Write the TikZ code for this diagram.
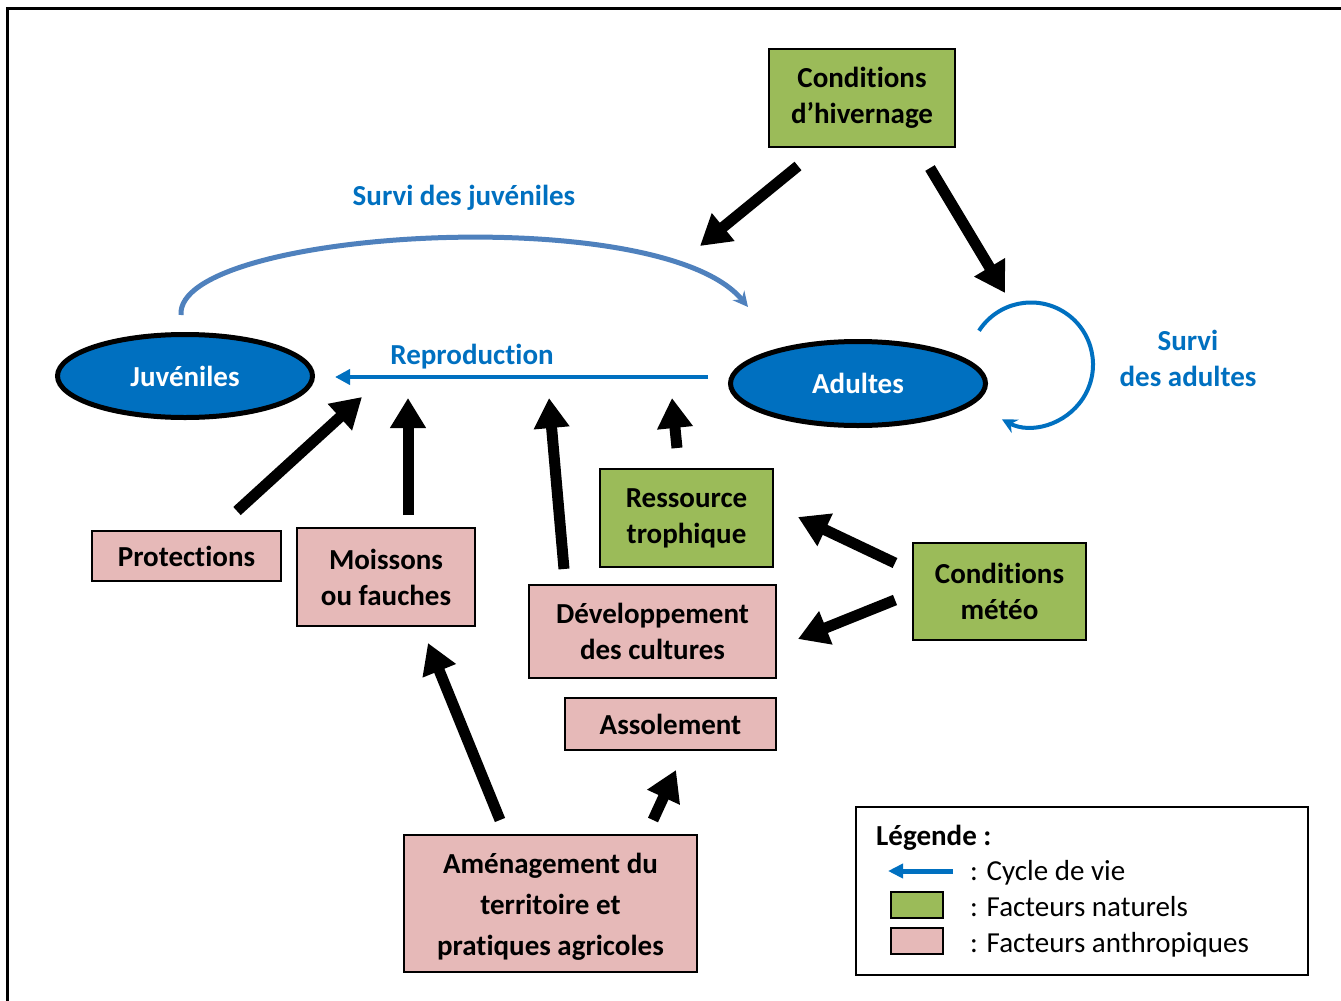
\documentclass[tikz,border=0pt]{standalone}
\usepackage{fontspec}
\setmainfont{Carlito}[Ligatures={NoCommon,NoContextual,NoDiscretionary},Contextuals=NoAlternate]
\usetikzlibrary{shapes.geometric,arrows.meta}
\definecolor{cblue}{HTML}{0070C0}
\definecolor{carc}{HTML}{4F81BD}
\definecolor{cgreen}{HTML}{9BBB59}
\definecolor{cpink}{HTML}{E6B9B8}
\begin{document}
\begin{tikzpicture}[x=1pt,y=-1pt,
  lbl/.style={font=\fontsize{29}{36}\selectfont\bfseries, align=center},
  natbox/.style={lbl, draw=black, line width=2pt, fill=cgreen, inner sep=0pt},
  anbox/.style={lbl, draw=black, line width=2pt, fill=cpink, inner sep=0pt},
  stage/.style={ellipse, draw=black, line width=5pt, fill=cblue, text=white, lbl, inner sep=0pt},
  bigarrow/.style={line width=11pt, -{Triangle[length=30pt,width=34pt]}},
  cyclearrow/.style={cblue, line width=4pt, -{Triangle[length=15pt,width=15pt]}},
  bluetxt/.style={lbl, text=cblue},
  legtxt/.style={font=\fontsize{29}{36}\selectfont, anchor=base west, inner sep=0pt}
]
\clip (0,0) rectangle (1341,1001);
\fill[white] (0,0) rectangle (1341,1001);
\draw[line width=3pt] (7.5,1020) -- (7.5,8.5) -- (1360,8.5);

% life stages
\node[stage, minimum width=255pt, minimum height=83pt] (juv) at (185,376) {Juvéniles};
\node[stage, minimum width=255pt, minimum height=84pt] (adu) at (858,383.5) {Adultes};

% factor boxes
\node[natbox, minimum width=186pt, minimum height=98pt] (hiv) at (862,98) {Condit\kern0pt ions\\d’hivernage};
\node[anbox, minimum width=189pt, minimum height=50pt] (prot) at (186.5,556) {Protect\kern0pt ions};
\node[anbox, minimum width=178pt, minimum height=98pt] (mois) at (386,577) {Moissons\\ou fauches};
\node[natbox, minimum width=173pt, minimum height=98pt] (ress) at (686.5,518) {Ressource\\trophique};
\node[anbox, minimum width=247pt, minimum height=93pt] (dev) at (652.5,631.5) {Développement\\des cultures};
\node[natbox, minimum width=173pt, minimum height=97pt] (meteo) at (999.5,591.5) {Condit\kern0pt ions\\météo};
\node[anbox, minimum width=211pt, minimum height=52pt] (asso) at (670.5,724) {Assolement};
\node[anbox, minimum width=293pt, minimum height=137pt, font=\fontsize{29}{41}\selectfont\bfseries] (amen) at (550.5,903.5) {\raisebox{-3pt}[\height][\depth]{\begin{tabular}{@{}c@{}}Aménagement du\\territoire et\\pratiques agricoles\end{tabular}}};

% cycle labels
\node[bluetxt] (tsj) at (464,198) {Survi des juvéniles};
\node[bluetxt] (trep) at (472,357) {Reproduction};
\node[bluetxt] (tsa) at (1188,358) {Survi\\des adultes};

% life cycle arrows
\coordinate (repS) at (708,377);
\coordinate (repE) at (335,377);
\draw[cyclearrow] (repS) -- (repE);
\coordinate (sjS) at (181,315);
\coordinate (sjE) at (748,307);
\draw[carc, line width=5pt, -{Stealth[length=15pt,width=15pt,inset=5pt]}]
  (sjS) .. controls (175,230) and (660,200) .. (sjE);
\coordinate (saC) at (1031,364.5);
\draw[cblue, line width=4pt, -{Stealth[length=15pt,width=15pt,inset=5pt]}]
  (saC) ++(213:62) arc[start angle=213, end angle=478, radius=62];

% influence arrows
\coordinate (a1s) at (798,166);  \coordinate (a1e) at (700,246);
\coordinate (a2s) at (930,168);  \coordinate (a2e) at (1005,293);
\coordinate (a3s) at (237,511);  \coordinate (a3e) at (362,397);
\coordinate (a4s) at (408,515);  \coordinate (a4e) at (408,398);
\coordinate (a5s) at (564,569);  \coordinate (a5e) at (549,398);
\coordinate (a6s) at (677,448);  \coordinate (a6e) at (672,398);
\coordinate (a7s) at (895,563);  \coordinate (a7e) at (798,517);
\coordinate (a8s) at (895,600);  \coordinate (a8e) at (798,639);
\coordinate (a9s) at (500,820);  \coordinate (a9e) at (428,643);
\coordinate (a10s) at (653,820); \coordinate (a10e) at (676,770);
\foreach \i in {1,...,10} {\draw[bigarrow] (a\i s) -- (a\i e);}

% legend
\node[draw=black, line width=1.5pt, minimum width=452pt, minimum height=168pt, inner sep=0pt] (leg) at (1082,891) {};
\node[font=\fontsize{29}{36}\selectfont\bfseries, anchor=base west, inner sep=0pt] (legt) at (876,845) {Légende :};
\coordinate (lgS) at (953,871);
\coordinate (lgE) at (888,871);
\draw[cblue, line width=5pt, -{Triangle[length=15pt,width=14pt]}] (lgS) -- (lgE);
\node[draw=black, line width=2pt, fill=cgreen, minimum width=52pt, minimum height=26pt, inner sep=0pt] (lgg) at (916.5,904.5) {};
\node[draw=black, line width=2pt, fill=cpink, minimum width=52pt, minimum height=26pt, inner sep=0pt] (lgp) at (916.5,940.5) {};
\node[legtxt] (l1) at (970,880) {: Cycle de vie};
\node[legtxt] (l2) at (970,916) {: Facteurs naturels};
\node[legtxt] (l3) at (970,952) {: Facteurs anthropiques};
\end{tikzpicture}
\end{document}
